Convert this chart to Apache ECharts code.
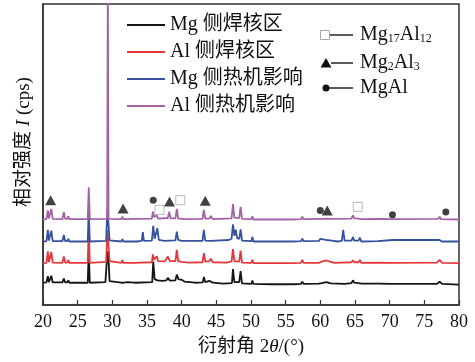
<!DOCTYPE html>
<html><head><meta charset="utf-8">
<script src="https://cdn.jsdelivr.net/npm/echarts@6/dist/echarts.min.js"></script>
<style>html,body{margin:0;padding:0;background:#fff}#c{width:475px;height:362px}</style>
</head><body><div id="c"></div>
<script>
// 2θ (deg) vs relative intensity (offset patterns, arbitrary units)
var seriesNames = ['Mg 侧焊核区', 'Al 侧焊核区', 'Mg 侧热机影响', 'Al 侧热机影响'];
var xTicks = [20, 25, 30, 35, 40, 45, 50, 55, 60, 65, 70, 75, 80];

var mgNugget = [[20.0,7.4],[20.5,7.5],[20.7,9.6],[20.85,7.6],[21.05,7.6],[21.2,9.7],[21.4,7.5],[22.8,7.5],[23.0,8.8],[23.2,7.5],[23.5,7.5],[23.65,8.2],[23.8,7.4],[26.45,7.4],[26.6,17.8],[26.75,7.4],[29.0,7.6],[29.25,16],[29.4,18],[29.6,7.9],[29.8,7.4],[31.3,7.4],[31.45,8.0],[31.6,7.4],[32.2,7.6],[33.2,7.4],[35.75,7.6],[35.9,14.4],[36.1,8.6],[36.5,8.2],[36.7,8.6],[37.2,8.0],[37.8,8.2],[38.0,9.0],[38.3,8.1],[39.1,8.2],[39.3,10.1],[39.55,8.5],[40.0,8.4],[40.4,7.8],[41.2,7.6],[41.9,7.4],[43.05,7.5],[43.2,9.3],[43.4,7.6],[44.0,8.0],[44.2,8.3],[44.5,7.4],[46.0,7.1],[47.25,7.3],[47.4,11.9],[47.6,7.6],[48.3,7.6],[48.5,11.3],[48.7,7.2],[50.05,7.0],[50.2,8.1],[50.35,7.0],[53.0,6.9],[56.2,6.9],[57.2,7.0],[57.4,7.7],[57.6,7.0],[59.8,7.1],[60.2,7.3],[60.9,7.6],[61.1,7.9],[61.5,7.2],[63.5,7.0],[64.5,7.3],[64.7,8.2],[64.9,7.4],[65.5,7.3],[65.7,7.9],[65.9,7.1],[68.3,7.1],[70.4,7.0],[76.8,7.0],[77.2,7.7],[77.6,7.0],[80.0,6.8]];

var alNugget = [[20.0,13.9],[20.5,14.0],[20.7,17.8],[20.85,14.2],[21.05,14.3],[21.2,17.6],[21.4,14.1],[22.8,14.0],[23.0,16.1],[23.2,14.1],[23.5,14.1],[23.65,14.9],[23.8,14.0],[26.45,14.0],[26.6,24.8],[26.75,14.0],[29.1,14.3],[29.3,25.0],[29.45,25.0],[29.6,14.6],[29.8,14.0],[31.3,14.0],[31.45,14.9],[31.6,14.0],[33.0,14.0],[35.7,14.2],[35.85,16.8],[36.0,15.0],[36.2,14.8],[36.4,16.2],[36.6,14.6],[37.6,14.5],[38.0,16.1],[38.3,14.6],[39.1,14.6],[39.3,18.3],[39.5,14.6],[40.0,14.3],[41.0,14.1],[43.0,14.2],[43.2,17.2],[43.4,14.4],[44.0,14.6],[44.2,15.4],[44.5,14.2],[46.5,14.1],[47.2,14.5],[47.4,18.6],[47.6,14.6],[48.3,14.4],[48.5,18.1],[48.7,14.1],[50.05,14.0],[50.2,15.0],[50.35,13.9],[56.0,13.9],[57.2,14.0],[57.4,15.0],[57.6,14.0],[59.8,14.0],[60.2,14.4],[60.8,14.8],[61.0,15.3],[61.4,14.4],[62.0,14.0],[64.5,14.2],[64.7,14.9],[64.9,14.2],[65.5,14.2],[65.7,15.0],[65.9,14.0],[68.3,14.1],[70.4,14.0],[76.8,14.1],[77.2,15.0],[77.6,14.0],[80.0,13.9]];

var mgTMAZ = [[20.0,21.1],[20.5,21.2],[20.7,25.0],[20.85,21.4],[21.05,21.4],[21.2,24.7],[21.4,21.2],[22.8,21.2],[23.0,23.3],[23.2,21.2],[23.5,21.2],[23.65,22.0],[23.8,21.1],[26.45,21.1],[26.6,31.8],[26.75,21.1],[29.1,21.3],[29.3,32.0],[29.45,32.0],[29.6,21.5],[29.8,21.1],[31.3,21.1],[31.45,21.9],[31.6,21.1],[33.5,21.1],[34.25,21.3],[34.4,24.2],[34.55,21.3],[35.7,21.4],[35.9,26.3],[36.1,22.0],[36.3,22.0],[36.5,25.5],[36.7,21.6],[37.5,21.3],[39.1,21.5],[39.3,24.4],[39.5,21.6],[40.0,21.3],[43.0,21.3],[43.2,25.0],[43.4,21.4],[44.2,21.3],[46.8,21.6],[47.2,22.0],[47.4,26.8],[47.6,23.0],[47.8,25.0],[48.0,22.2],[48.3,22.0],[48.5,25.1],[48.7,21.4],[50.05,21.2],[50.2,22.6],[50.35,21.1],[56.0,21.1],[57.2,21.2],[57.4,22.0],[57.6,21.2],[59.8,21.3],[60.0,22.0],[60.2,21.4],[60.8,21.6],[61.0,22.2],[61.4,21.5],[62.5,21.1],[63.1,21.3],[63.3,25.0],[63.5,21.4],[64.5,21.4],[64.7,22.6],[64.9,21.4],[65.5,21.4],[65.7,22.4],[65.9,21.1],[68.3,21.2],[70.4,21.6],[70.6,21.1],[77.2,21.6],[77.5,21.1],[80.0,21.1]];

var alTMAZ = [[20.0,28.4],[20.5,28.5],[20.7,31.4],[20.85,28.7],[21.05,28.8],[21.2,31.9],[21.4,28.6],[22.8,28.5],[23.0,30.8],[23.2,28.6],[23.5,28.6],[23.65,29.5],[23.8,28.5],[26.45,28.5],[26.6,39.1],[26.75,28.5],[29.25,28.6],[29.35,110],[29.45,28.6],[31.3,28.5],[31.45,29.4],[31.6,28.5],[35.7,28.7],[35.85,31.0],[36.0,29.2],[36.2,29.0],[36.4,29.8],[36.6,28.7],[38.0,28.9],[38.2,31.0],[38.4,28.8],[39.1,28.8],[39.3,31.9],[39.5,28.7],[40.5,28.5],[43.0,28.6],[43.2,31.6],[43.4,28.7],[44.0,28.7],[44.2,29.6],[44.5,28.5],[47.2,28.8],[47.4,33.5],[47.6,29.0],[48.3,28.9],[48.5,32.6],[48.7,28.6],[50.05,28.5],[50.2,29.5],[50.35,28.4],[56.0,28.4],[57.2,28.5],[57.4,29.3],[57.6,28.5],[59.8,28.6],[60.0,29.2],[60.2,28.6],[60.9,28.7],[61.1,29.2],[61.4,28.6],[64.5,28.7],[64.7,29.8],[64.9,28.8],[65.5,28.7],[65.7,29.3],[65.9,28.5],[68.3,28.6],[70.4,28.5],[77.0,28.6],[77.2,29.3],[77.4,28.5],[80.0,28.4]];

// phase markers [2θ, label height]
var mg17al12 = [[36.8,31.6],[39.8,34.8],[65.4,32.6]];
var mg2al3 = [[21.1,34.8],[31.55,32.1],[38.25,34.4],[43.4,34.6],[61.0,31.4]];
var mgal = [[35.9,34.8],[60.0,31.4],[70.4,30.0],[78.1,30.9]];

var colors = ['#151515', '#e5383c', '#36529c', '#a262a8'];
var serif = '"Liberation Serif","Noto Sans CJK SC",serif';

var chart = echarts.init(document.getElementById('c'));
var lineData = [mgNugget, alNugget, mgTMAZ, alTMAZ];
var series = lineData.map(function (d, i) {
  return {
    name: seriesNames[i], type: 'line', data: d, symbol: 'none',
    lineStyle: {color: colors[i], width: 1.8}, itemStyle: {color: colors[i]},
    clip: true, animation: false, z: 2 + i
  };
});
series.push({name: 'Mg17Al12', type: 'scatter', data: mg17al12, symbol: 'rect', symbolSize: 9,
  itemStyle: {color: '#fff', borderColor: '#a8a8a8', borderWidth: 1}, z: 10, animation: false});
series.push({name: 'Mg2Al3', type: 'scatter', data: mg2al3, symbol: 'triangle', symbolSize: [11, 10],
  itemStyle: {color: '#111'}, z: 10, animation: false});
series.push({name: 'MgAl', type: 'scatter', data: mgal, symbol: 'circle', symbolSize: 7,
  itemStyle: {color: '#111'}, z: 10, animation: false});

var rich = {
  s: {fontFamily: serif, fontSize: 12, color: '#111', verticalAlign: 'bottom', lineHeight: 14, padding: [6, 0, 0, 0]}
};

chart.setOption({
  backgroundColor: '#fff',
  animation: false,
  grid: {left: 43, right: 16, top: 4, bottom: 55, show: true, borderColor: '#333', borderWidth: 1.5},
  legend: {
    data: seriesNames, orient: 'vertical', left: 127, top: 14, padding: 0,
    icon: 'rect', itemWidth: 38, itemHeight: 2, itemGap: 5,
    textStyle: {fontFamily: serif, fontSize: 20, color: '#111', lineHeight: 22}
  },
  xAxis: {
    type: 'value', min: xTicks[0], max: xTicks[xTicks.length - 1], interval: 5,
    name: '衍射角 2{i|θ}/(°)', nameLocation: 'middle', nameGap: 33,
    nameTextStyle: {fontFamily: serif, fontSize: 19, color: '#111',
      rich: {i: {fontFamily: serif, fontStyle: 'italic', fontSize: 19, color: '#111'}}},
    axisLine: {lineStyle: {color: '#333', width: 1.5}},
    axisTick: {inside: true, length: 5, lineStyle: {color: '#333', width: 1.2}},
    axisLabel: {fontFamily: serif, fontSize: 18, color: '#111', margin: 8},
    splitLine: {show: false}
  },
  yAxis: {
    type: 'value', min: 0, max: 100,
    axisLine: {show: true, lineStyle: {color: '#333', width: 1.5}},
    axisTick: {show: false}, axisLabel: {show: false}, splitLine: {show: false}
  },
  graphic: [
    {type: 'text', x: 24, y: 142, rotation: Math.PI / 2,
      style: {text: '相对强度 {i|I} (cps)', fontFamily: serif, fontSize: 19, fill: '#111',
        align: 'center', verticalAlign: 'middle',
        rich: {i: {fontFamily: serif, fontStyle: 'italic', fontSize: 19, fill: '#111'}}}},
    {type: 'rect', shape: {x: 320.5, y: 30.5, width: 9, height: 9},
      style: {fill: '#fff', stroke: '#a8a8a8', lineWidth: 1}},
    {type: 'line', shape: {x1: 330, y1: 35, x2: 353, y2: 35}, style: {stroke: '#222', lineWidth: 1.5}},
    {type: 'text', x: 360, y: 35, style: {text: 'Mg{s|17}Al{s|12}', fontFamily: serif, fontSize: 20, fill: '#111', verticalAlign: 'middle', rich: rich}},
    {type: 'polygon', shape: {points: [[320.5, 67.5], [326, 58], [331.5, 67.5]]}, style: {fill: '#111'}},
    {type: 'line', shape: {x1: 331, y1: 63, x2: 353, y2: 63}, style: {stroke: '#222', lineWidth: 1.5}},
    {type: 'text', x: 360, y: 63, style: {text: 'Mg{s|2}Al{s|3}', fontFamily: serif, fontSize: 20, fill: '#111', verticalAlign: 'middle', rich: rich}},
    {type: 'circle', shape: {cx: 326, cy: 88, r: 3.5}, style: {fill: '#111'}},
    {type: 'line', shape: {x1: 329, y1: 88, x2: 353, y2: 88}, style: {stroke: '#222', lineWidth: 1.5}},
    {type: 'text', x: 360, y: 88, style: {text: 'MgAl', fontFamily: serif, fontSize: 20, fill: '#111', verticalAlign: 'middle'}}
  ],
  series: series
});
</script>
</body></html>
